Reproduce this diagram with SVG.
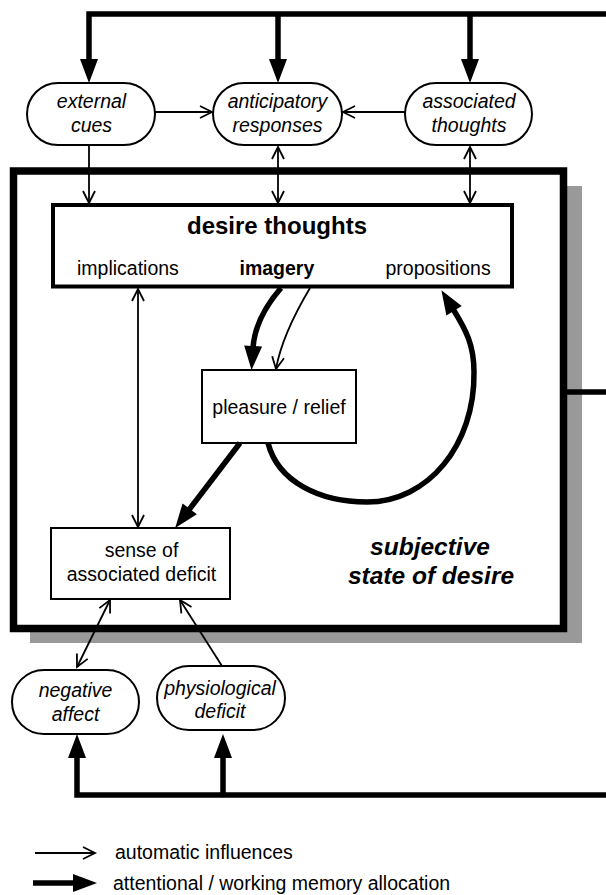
<svg xmlns="http://www.w3.org/2000/svg" width="606" height="895" viewBox="0 0 606 895">
<style>
text{font-family:"Liberation Sans",Arial,Helvetica,sans-serif;font-size:19.5px;fill:#000}
.it{font-style:italic}
.b{font-weight:bold}
.big{font-size:24px}
.sub{font-size:24.5px}
.node{fill:#fff;stroke:#000;stroke-width:2}
.thin{fill:none;stroke:#000;stroke-width:1.8}
.thick{fill:none;stroke:#000;stroke-width:5.5}
</style>
<defs>
<marker id="ta" markerUnits="userSpaceOnUse" markerWidth="30" markerHeight="30" viewBox="-15 -15 30 30" refX="0" refY="0" orient="auto-start-reverse" overflow="visible">
<path d="M-12,-6 L0,0 L-12,6" fill="none" stroke="#000" stroke-width="1.8"/>
</marker>
<marker id="TA" markerUnits="userSpaceOnUse" markerWidth="35" markerHeight="30" viewBox="-5 -15 35 30" refX="0" refY="0" orient="auto" overflow="visible">
<path d="M-2,-9 L22,0 L-2,9 Z" fill="#000"/>
</marker>
</defs>
<rect width="606" height="895" fill="#fff"/>

<g id="subjective-state">
<rect x="30" y="186" width="552" height="457" fill="#999"/>
<rect x="13.5" y="171" width="550" height="457.5" fill="#fff" stroke="#000" stroke-width="7.5"/>
<text class="b it sub" x="430" y="555" text-anchor="middle">subjective</text>
<text class="b it sub" x="431" y="584" text-anchor="middle">state of desire</text>
</g>

<g id="desire-thoughts">
<rect x="53" y="205" width="459" height="81.5" fill="#fff" stroke="#000" stroke-width="4"/>
<text class="b big" x="277" y="234" text-anchor="middle">desire thoughts</text>
<text x="77" y="275">implications</text>
<text class="b" x="239.5" y="275">imagery</text>
<text x="385.5" y="275">propositions</text>
</g>

<g id="pleasure-relief">
<rect class="node" x="202" y="370" width="154" height="73"/>
<text x="279" y="414" text-anchor="middle">pleasure / relief</text>
</g>

<g id="sense-of-deficit">
<rect class="node" x="51" y="528" width="179" height="71"/>
<text x="141.5" y="557" text-anchor="middle">sense of</text>
<text x="141.5" y="581" text-anchor="middle">associated deficit</text>
</g>

<g id="external-cues">
<rect class="node" x="27" y="83" width="128" height="62" rx="31"/>
<text class="it" x="91.5" y="108" text-anchor="middle">external</text>
<text class="it" x="91.5" y="132" text-anchor="middle">cues</text>
</g>

<g id="anticipatory-responses">
<rect class="node" x="213" y="83" width="129" height="62" rx="31"/>
<text class="it" x="277.5" y="108" text-anchor="middle">anticipatory</text>
<text class="it" x="277.5" y="132" text-anchor="middle">responses</text>
</g>

<g id="associated-thoughts">
<rect class="node" x="405" y="83" width="127" height="62" rx="31"/>
<text class="it" x="469" y="108" text-anchor="middle">associated</text>
<text class="it" x="469" y="132" text-anchor="middle">thoughts</text>
</g>

<g id="negative-affect">
<rect class="node" x="12" y="670" width="127" height="64" rx="32"/>
<text class="it" x="75.5" y="697" text-anchor="middle">negative</text>
<text class="it" x="75.5" y="721" text-anchor="middle">affect</text>
</g>

<g id="physiological-deficit">
<rect class="node" x="157" y="666" width="128" height="64" rx="32"/>
<text class="it" x="220" y="695" text-anchor="middle">physiological</text>
<text class="it" x="220" y="718" text-anchor="middle">deficit</text>
</g>

<g id="connectors">
<path class="thick" d="M606,14 H89 V61" stroke-linejoin="miter" marker-end="url(#TA)"/>
<path class="thick" d="M278,14 V61" marker-end="url(#TA)"/>
<path class="thick" d="M470,14 V61" marker-end="url(#TA)"/>
<path class="thick" d="M567,392 H606"/>
<path class="thick" d="M606,795 H77 V756" stroke-linejoin="miter" marker-end="url(#TA)"/>
<path class="thick" d="M223,795 V756" marker-end="url(#TA)"/>

<path class="thin" d="M89,146 V203" marker-end="url(#ta)"/>
<path class="thin" d="M278,147 V203" marker-start="url(#ta)" marker-end="url(#ta)"/>
<path class="thin" d="M470,147 V203" marker-start="url(#ta)" marker-end="url(#ta)"/>
<path class="thin" d="M155,112 H212" marker-end="url(#ta)"/>
<path class="thin" d="M405,112 H343" marker-end="url(#ta)"/>
<path class="thin" d="M138,289 V527" marker-start="url(#ta)" marker-end="url(#ta)"/>
<path class="thin" d="M110,600 L77,667" marker-start="url(#ta)" marker-end="url(#ta)"/>
<path class="thin" d="M222,666 L180,600" marker-end="url(#ta)"/>

<path class="thick" d="M281,288 Q255,318 253,348" marker-end="url(#TA)"/>
<path class="thin" d="M310,288 Q282,335 276,369" marker-end="url(#ta)"/>
<path class="thick" d="M268,443 C278,482 320,502 367,502 C428,502 475,445 474,372 C474,345 466,330 453,309" marker-end="url(#TA)"/>
<path class="thick" d="M240,443 L188.5,510.5" marker-end="url(#TA)"/>

<path class="thin" d="M35,853 H95" marker-end="url(#ta)"/>
<path class="thick" d="M33,883 H75" marker-end="url(#TA)"/>
</g>

<g id="legend">
<text x="115" y="859">automatic influences</text>
<text x="113" y="890">attentional / working memory allocation</text>
</g>
</svg>
